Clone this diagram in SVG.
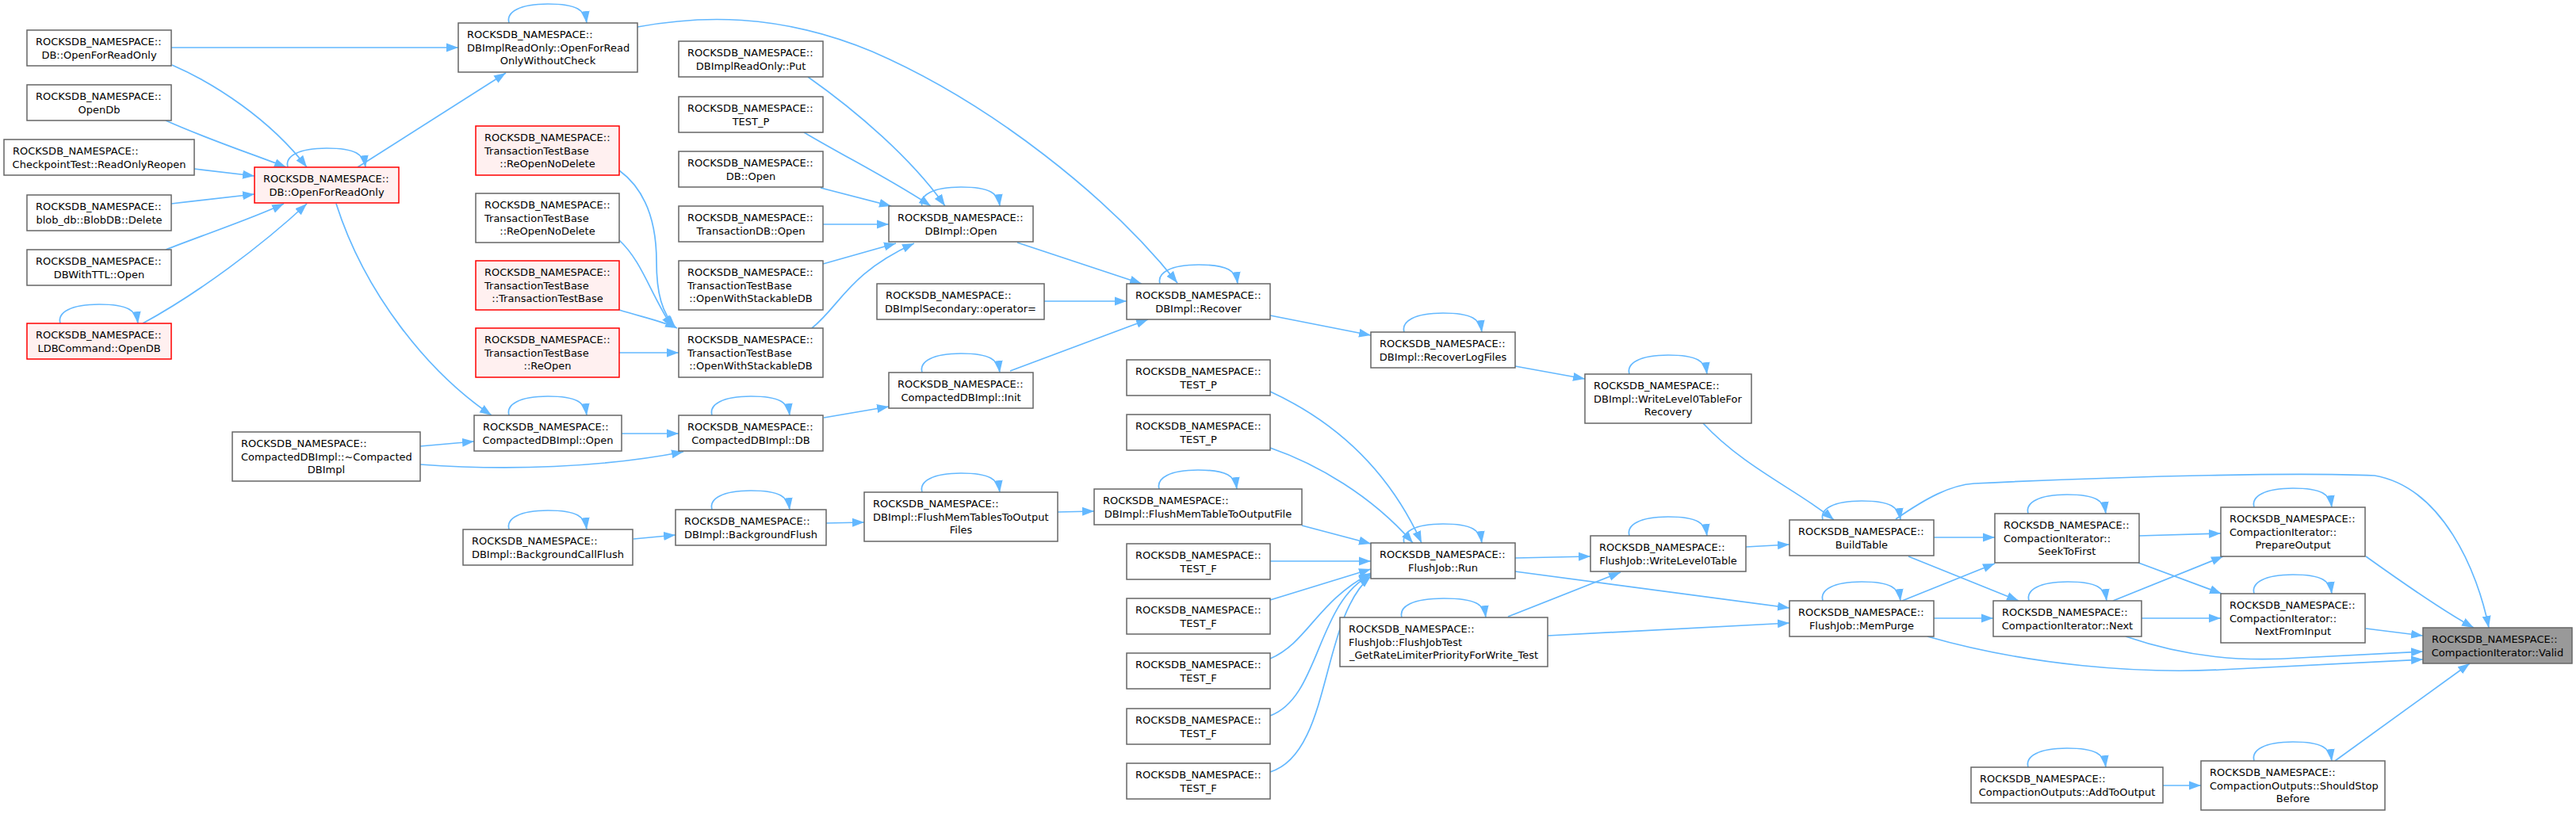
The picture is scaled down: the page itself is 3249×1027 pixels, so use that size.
<svg xmlns="http://www.w3.org/2000/svg" width="3249" height="1027" viewBox="0 0 3249 1027">
<defs>
<style>
.nd{fill:#ffffff;stroke:#666666;stroke-width:1.5}
.rd{fill:#fff0f0;stroke:#ff0000;stroke-width:1.5}
.gr{fill:#999999;stroke:#666666;stroke-width:1.5}
text{font-family:"DejaVu Sans","Liberation Sans",sans-serif;font-size:13px;fill:#000000}
.c{text-anchor:middle}
#edges path{fill:none;stroke:#63b8ff;stroke-width:1.7;marker-end:url(#ah)}
</style>
<marker id="ah" markerUnits="userSpaceOnUse" markerWidth="16" markerHeight="12" refX="15" refY="6" orient="auto">
<path d="M0,0.5 L15,6 L0,11.5 z" fill="#63b8ff"/>
</marker>
</defs>
<rect width="3249" height="1027" fill="#ffffff"/>
<g id="edges">
<path d="M216,60 L578,60"/>
<path d="M217,82 C270,105 340,150 387,211"/>
<path d="M209,152 C260,175 320,195 361,211"/>
<path d="M245,213 L321,222"/>
<path d="M216,257 L321,245"/>
<path d="M209,315 C260,295 320,275 358,257"/>
<path d="M180,408 C250,370 330,310 387,257"/>
<path d="M451,211 L638,92"/>
<path d="M424,257 C460,370 540,470 620,524"/>
<path d="M530,563 L598,557"/>
<path d="M530,586 C640,594 760,590 862,570"/>
<path d="M804,34 C880,20 980,15 1100,65 C1250,130 1400,250 1485,357"/>
<path d="M781,215 C815,240 828,280 828,330 C828,370 835,395 852,413"/>
<path d="M781,303 C810,330 820,370 848,413"/>
<path d="M781,391 C810,400 835,405 854,414"/>
<path d="M781,445 L856,445"/>
<path d="M784,547 L856,547"/>
<path d="M799,680 L852,675"/>
<path d="M1019,97 C1080,140 1150,200 1192,260"/>
<path d="M1014,167 C1070,200 1130,230 1174,260"/>
<path d="M1035,237 L1124,260"/>
<path d="M1038,283 L1121,283"/>
<path d="M1038,333 L1130,307"/>
<path d="M1024,414 C1060,385 1070,345 1153,307"/>
<path d="M1039,527 L1121,513"/>
<path d="M1042,660 L1090,659"/>
<path d="M1283,306 L1440,358"/>
<path d="M1317,380 L1421,380"/>
<path d="M1274,468 L1448,403"/>
<path d="M1334,646 L1380,645"/>
<path d="M1602,398 L1729,423"/>
<path d="M1602,494 C1680,530 1750,590 1793,685"/>
<path d="M1602,565 C1660,585 1730,625 1782,685"/>
<path d="M1642,663 L1729,686"/>
<path d="M1602,708 L1729,708"/>
<path d="M1602,757 L1729,718"/>
<path d="M1602,831 C1650,810 1660,760 1729,723"/>
<path d="M1602,903 C1665,880 1660,760 1729,725"/>
<path d="M1602,974 C1680,950 1665,780 1729,727"/>
<path d="M1911,462 L1999,478"/>
<path d="M1911,704 L2006,702"/>
<path d="M1911,721 L2257,767"/>
<path d="M1902,778 L2044,722"/>
<path d="M1952,802 L2257,786"/>
<path d="M2148,534 C2200,590 2270,620 2313,656"/>
<path d="M2202,690 L2257,687"/>
<path d="M2439,678 L2516,678"/>
<path d="M2407,702 L2546,758"/>
<path d="M2399,758 L2516,711"/>
<path d="M2439,780 L2514,780"/>
<path d="M2431,803 C2560,840 2700,850 2800,845 C2900,840 3000,835 3056,832"/>
<path d="M2391,655 C2430,628 2460,612 2490,610 C2700,600 2900,596 2995,600 C3080,615 3125,720 3139,792"/>
<path d="M2681,803 C2760,830 2830,835 2900,830 L3056,822"/>
<path d="M2698,676 L2801,673"/>
<path d="M2697,710 L2802,749"/>
<path d="M2665,758 L2804,702"/>
<path d="M2701,780 L2801,780"/>
<path d="M2728,991 L2776,991"/>
<path d="M2984,702 C3030,735 3080,770 3120,792"/>
<path d="M2984,793 L3056,802"/>
<path d="M2945,960 L3115,837"/>
<path d="M76,408 C72,394 90,384 125,384 C162,384 172,392 174,408"/>
<path d="M363,211 C359,197 377,187 412,187 C449,187 459,195 461,211"/>
<path d="M642,29 C638,15 656,5 691,5 C728,5 738,13 740,29"/>
<path d="M642,524 C638,510 656,500 691,500 C728,500 738,508 740,524"/>
<path d="M642,668 C638,654 656,644 691,644 C728,644 738,652 740,668"/>
<path d="M898,524 C894,510 912,500 947,500 C984,500 994,508 996,524"/>
<path d="M898,643 C894,629 912,619 947,619 C984,619 994,627 996,643"/>
<path d="M1163,260 C1159,246 1177,236 1212,236 C1249,236 1259,244 1261,260"/>
<path d="M1163,470 C1159,456 1177,446 1212,446 C1249,446 1259,454 1261,470"/>
<path d="M1163,621 C1159,607 1177,597 1212,597 C1249,597 1259,605 1261,621"/>
<path d="M1463,358 C1459,344 1477,334 1512,334 C1549,334 1559,342 1561,358"/>
<path d="M1462,617 C1458,603 1476,593 1511,593 C1548,593 1558,601 1560,617"/>
<path d="M1771,419 C1767,405 1785,395 1820,395 C1857,395 1867,403 1869,419"/>
<path d="M1771,685 C1767,671 1785,661 1820,661 C1857,661 1867,669 1869,685"/>
<path d="M1768,779 C1764,765 1782,755 1821,755 C1862,755 1872,763 1874,779"/>
<path d="M2055,472 C2051,458 2069,448 2104,448 C2141,448 2151,456 2153,472"/>
<path d="M2055,676 C2051,662 2069,652 2104,652 C2141,652 2151,660 2153,676"/>
<path d="M2299,656 C2295,642 2313,632 2348,632 C2385,632 2395,640 2397,656"/>
<path d="M2299,758 C2295,744 2313,734 2348,734 C2385,734 2395,742 2397,758"/>
<path d="M2558,648 C2554,634 2572,624 2607,624 C2644,624 2654,632 2656,648"/>
<path d="M2559,758 C2555,744 2573,734 2608,734 C2645,734 2655,742 2657,758"/>
<path d="M2558,968 C2554,954 2572,944 2607,944 C2644,944 2654,952 2656,968"/>
<path d="M2843,640 C2839,626 2857,616 2892,616 C2929,616 2939,624 2941,640"/>
<path d="M2843,749 C2839,735 2857,725 2892,725 C2929,725 2939,733 2941,749"/>
<path d="M2843,960 C2839,946 2857,936 2892,936 C2929,936 2939,944 2941,960"/>
</g>
<g id="n1"><rect class="nd" x="34" y="38" width="182" height="45"/><text><tspan x="45" y="57">ROCKSDB_NAMESPACE::</tspan><tspan class="c" x="125" y="73.7">DB::OpenForReadOnly</tspan></text></g>
<g id="n2"><rect class="nd" x="34" y="107" width="182" height="45"/><text><tspan x="45" y="126">ROCKSDB_NAMESPACE::</tspan><tspan class="c" x="125" y="142.7">OpenDb</tspan></text></g>
<g id="n3"><rect class="nd" x="5" y="176" width="240" height="45"/><text><tspan x="16" y="195">ROCKSDB_NAMESPACE::</tspan><tspan class="c" x="125" y="211.7">CheckpointTest::ReadOnlyReopen</tspan></text></g>
<g id="n4"><rect class="nd" x="34" y="246" width="182" height="45"/><text><tspan x="45" y="265">ROCKSDB_NAMESPACE::</tspan><tspan class="c" x="125" y="281.7">blob_db::BlobDB::Delete</tspan></text></g>
<g id="n5"><rect class="nd" x="34" y="315" width="182" height="45"/><text><tspan x="45" y="334">ROCKSDB_NAMESPACE::</tspan><tspan class="c" x="125" y="350.7">DBWithTTL::Open</tspan></text></g>
<g id="n6"><rect class="rd" x="34" y="408" width="182" height="45"/><text><tspan x="45" y="427">ROCKSDB_NAMESPACE::</tspan><tspan class="c" x="125" y="443.7">LDBCommand::OpenDB</tspan></text></g>
<g id="n7"><rect class="rd" x="321" y="211" width="182" height="45"/><text><tspan x="332" y="230">ROCKSDB_NAMESPACE::</tspan><tspan class="c" x="412" y="246.7">DB::OpenForReadOnly</tspan></text></g>
<g id="n8"><rect class="nd" x="293" y="545" width="237" height="62"/><text><tspan x="304" y="564">ROCKSDB_NAMESPACE::</tspan><tspan x="304" y="580.7">CompactedDBImpl::~Compacted</tspan><tspan class="c" x="411.5" y="597.4">DBImpl</tspan></text></g>
<g id="n9"><rect class="nd" x="578" y="29" width="226" height="62"/><text><tspan x="589" y="48">ROCKSDB_NAMESPACE::</tspan><tspan x="589" y="64.7">DBImplReadOnly::OpenForRead</tspan><tspan class="c" x="691" y="81.4">OnlyWithoutCheck</tspan></text></g>
<g id="n10"><rect class="rd" x="600" y="159" width="181" height="62"/><text><tspan x="611" y="178">ROCKSDB_NAMESPACE::</tspan><tspan x="611" y="194.7">TransactionTestBase</tspan><tspan class="c" x="690.5" y="211.4">::ReOpenNoDelete</tspan></text></g>
<g id="n11"><rect class="nd" x="600" y="244" width="181" height="62"/><text><tspan x="611" y="263">ROCKSDB_NAMESPACE::</tspan><tspan x="611" y="279.7">TransactionTestBase</tspan><tspan class="c" x="690.5" y="296.4">::ReOpenNoDelete</tspan></text></g>
<g id="n12"><rect class="rd" x="600" y="329" width="181" height="62"/><text><tspan x="611" y="348">ROCKSDB_NAMESPACE::</tspan><tspan x="611" y="364.7">TransactionTestBase</tspan><tspan class="c" x="690.5" y="381.4">::TransactionTestBase</tspan></text></g>
<g id="n13"><rect class="rd" x="600" y="414" width="181" height="62"/><text><tspan x="611" y="433">ROCKSDB_NAMESPACE::</tspan><tspan x="611" y="449.7">TransactionTestBase</tspan><tspan class="c" x="690.5" y="466.4">::ReOpen</tspan></text></g>
<g id="n14"><rect class="nd" x="598" y="524" width="186" height="45"/><text><tspan x="609" y="543">ROCKSDB_NAMESPACE::</tspan><tspan class="c" x="691" y="559.7">CompactedDBImpl::Open</tspan></text></g>
<g id="n15"><rect class="nd" x="584" y="668" width="214" height="45"/><text><tspan x="595" y="687">ROCKSDB_NAMESPACE::</tspan><tspan class="c" x="691" y="703.7">DBImpl::BackgroundCallFlush</tspan></text></g>
<g id="n16"><rect class="nd" x="856" y="52" width="182" height="45"/><text><tspan x="867" y="71">ROCKSDB_NAMESPACE::</tspan><tspan class="c" x="947" y="87.7">DBImplReadOnly::Put</tspan></text></g>
<g id="n17"><rect class="nd" x="856" y="122" width="182" height="45"/><text><tspan x="867" y="141">ROCKSDB_NAMESPACE::</tspan><tspan class="c" x="947" y="157.7">TEST_P</tspan></text></g>
<g id="n18"><rect class="nd" x="856" y="191" width="182" height="45"/><text><tspan x="867" y="210">ROCKSDB_NAMESPACE::</tspan><tspan class="c" x="947" y="226.7">DB::Open</tspan></text></g>
<g id="n19"><rect class="nd" x="856" y="260" width="182" height="45"/><text><tspan x="867" y="279">ROCKSDB_NAMESPACE::</tspan><tspan class="c" x="947" y="295.7">TransactionDB::Open</tspan></text></g>
<g id="n20"><rect class="nd" x="856" y="329" width="182" height="62"/><text><tspan x="867" y="348">ROCKSDB_NAMESPACE::</tspan><tspan x="867" y="364.7">TransactionTestBase</tspan><tspan class="c" x="947" y="381.4">::OpenWithStackableDB</tspan></text></g>
<g id="n21"><rect class="nd" x="856" y="414" width="182" height="62"/><text><tspan x="867" y="433">ROCKSDB_NAMESPACE::</tspan><tspan x="867" y="449.7">TransactionTestBase</tspan><tspan class="c" x="947" y="466.4">::OpenWithStackableDB</tspan></text></g>
<g id="n22"><rect class="nd" x="856" y="524" width="182" height="45"/><text><tspan x="867" y="543">ROCKSDB_NAMESPACE::</tspan><tspan class="c" x="947" y="559.7">CompactedDBImpl::DB</tspan></text></g>
<g id="n23"><rect class="nd" x="852" y="643" width="190" height="45"/><text><tspan x="863" y="662">ROCKSDB_NAMESPACE::</tspan><tspan class="c" x="947" y="678.7">DBImpl::BackgroundFlush</tspan></text></g>
<g id="n24"><rect class="nd" x="1121" y="260" width="182" height="45"/><text><tspan x="1132" y="279">ROCKSDB_NAMESPACE::</tspan><tspan class="c" x="1212" y="295.7">DBImpl::Open</tspan></text></g>
<g id="n25"><rect class="nd" x="1106" y="358" width="211" height="45"/><text><tspan x="1117" y="377">ROCKSDB_NAMESPACE::</tspan><tspan class="c" x="1211.5" y="393.7">DBImplSecondary::operator=</tspan></text></g>
<g id="n26"><rect class="nd" x="1121" y="470" width="182" height="45"/><text><tspan x="1132" y="489">ROCKSDB_NAMESPACE::</tspan><tspan class="c" x="1212" y="505.7">CompactedDBImpl::Init</tspan></text></g>
<g id="n27"><rect class="nd" x="1090" y="621" width="244" height="62"/><text><tspan x="1101" y="640">ROCKSDB_NAMESPACE::</tspan><tspan x="1101" y="656.7">DBImpl::FlushMemTablesToOutput</tspan><tspan class="c" x="1212" y="673.4">Files</tspan></text></g>
<g id="n28"><rect class="nd" x="1421" y="358" width="181" height="45"/><text><tspan x="1432" y="377">ROCKSDB_NAMESPACE::</tspan><tspan class="c" x="1511.5" y="393.7">DBImpl::Recover</tspan></text></g>
<g id="n29"><rect class="nd" x="1421" y="454" width="181" height="45"/><text><tspan x="1432" y="473">ROCKSDB_NAMESPACE::</tspan><tspan class="c" x="1511.5" y="489.7">TEST_P</tspan></text></g>
<g id="n30"><rect class="nd" x="1421" y="523" width="181" height="45"/><text><tspan x="1432" y="542">ROCKSDB_NAMESPACE::</tspan><tspan class="c" x="1511.5" y="558.7">TEST_P</tspan></text></g>
<g id="n31"><rect class="nd" x="1380" y="617" width="262" height="45"/><text><tspan x="1391" y="636">ROCKSDB_NAMESPACE::</tspan><tspan class="c" x="1511" y="652.7">DBImpl::FlushMemTableToOutputFile</tspan></text></g>
<g id="n32"><rect class="nd" x="1421" y="686" width="181" height="45"/><text><tspan x="1432" y="705">ROCKSDB_NAMESPACE::</tspan><tspan class="c" x="1511.5" y="721.7">TEST_F</tspan></text></g>
<g id="n33"><rect class="nd" x="1421" y="755" width="181" height="45"/><text><tspan x="1432" y="774">ROCKSDB_NAMESPACE::</tspan><tspan class="c" x="1511.5" y="790.7">TEST_F</tspan></text></g>
<g id="n34"><rect class="nd" x="1421" y="824" width="181" height="45"/><text><tspan x="1432" y="843">ROCKSDB_NAMESPACE::</tspan><tspan class="c" x="1511.5" y="859.7">TEST_F</tspan></text></g>
<g id="n35"><rect class="nd" x="1421" y="894" width="181" height="45"/><text><tspan x="1432" y="913">ROCKSDB_NAMESPACE::</tspan><tspan class="c" x="1511.5" y="929.7">TEST_F</tspan></text></g>
<g id="n36"><rect class="nd" x="1421" y="963" width="181" height="45"/><text><tspan x="1432" y="982">ROCKSDB_NAMESPACE::</tspan><tspan class="c" x="1511.5" y="998.7">TEST_F</tspan></text></g>
<g id="n37"><rect class="nd" x="1729" y="419" width="182" height="45"/><text><tspan x="1740" y="438">ROCKSDB_NAMESPACE::</tspan><tspan class="c" x="1820" y="454.7">DBImpl::RecoverLogFiles</tspan></text></g>
<g id="n38"><rect class="nd" x="1729" y="685" width="182" height="45"/><text><tspan x="1740" y="704">ROCKSDB_NAMESPACE::</tspan><tspan class="c" x="1820" y="720.7">FlushJob::Run</tspan></text></g>
<g id="n39"><rect class="nd" x="1690" y="779" width="262" height="62"/><text><tspan x="1701" y="798">ROCKSDB_NAMESPACE::</tspan><tspan x="1701" y="814.7">FlushJob::FlushJobTest</tspan><tspan class="c" x="1821" y="831.4">_GetRateLimiterPriorityForWrite_Test</tspan></text></g>
<g id="n40"><rect class="nd" x="1999" y="472" width="210" height="62"/><text><tspan x="2010" y="491">ROCKSDB_NAMESPACE::</tspan><tspan x="2010" y="507.7">DBImpl::WriteLevel0TableFor</tspan><tspan class="c" x="2104" y="524.4">Recovery</tspan></text></g>
<g id="n41"><rect class="nd" x="2006" y="676" width="196" height="45"/><text><tspan x="2017" y="695">ROCKSDB_NAMESPACE::</tspan><tspan class="c" x="2104" y="711.7">FlushJob::WriteLevel0Table</tspan></text></g>
<g id="n42"><rect class="nd" x="2257" y="656" width="182" height="45"/><text><tspan x="2268" y="675">ROCKSDB_NAMESPACE::</tspan><tspan class="c" x="2348" y="691.7">BuildTable</tspan></text></g>
<g id="n43"><rect class="nd" x="2257" y="758" width="182" height="45"/><text><tspan x="2268" y="777">ROCKSDB_NAMESPACE::</tspan><tspan class="c" x="2348" y="793.7">FlushJob::MemPurge</tspan></text></g>
<g id="n44"><rect class="nd" x="2516" y="648" width="182" height="62"/><text><tspan x="2527" y="667">ROCKSDB_NAMESPACE::</tspan><tspan x="2527" y="683.7">CompactionIterator::</tspan><tspan class="c" x="2607" y="700.4">SeekToFirst</tspan></text></g>
<g id="n45"><rect class="nd" x="2514" y="758" width="187" height="45"/><text><tspan x="2525" y="777">ROCKSDB_NAMESPACE::</tspan><tspan class="c" x="2607.5" y="793.7">CompactionIterator::Next</tspan></text></g>
<g id="n46"><rect class="nd" x="2486" y="968" width="242" height="45"/><text><tspan x="2497" y="987">ROCKSDB_NAMESPACE::</tspan><tspan class="c" x="2607" y="1003.7">CompactionOutputs::AddToOutput</tspan></text></g>
<g id="n47"><rect class="nd" x="2801" y="640" width="182" height="62"/><text><tspan x="2812" y="659">ROCKSDB_NAMESPACE::</tspan><tspan x="2812" y="675.7">CompactionIterator::</tspan><tspan class="c" x="2892" y="692.4">PrepareOutput</tspan></text></g>
<g id="n48"><rect class="nd" x="2801" y="749" width="182" height="62"/><text><tspan x="2812" y="768">ROCKSDB_NAMESPACE::</tspan><tspan x="2812" y="784.7">CompactionIterator::</tspan><tspan class="c" x="2892" y="801.4">NextFromInput</tspan></text></g>
<g id="n49"><rect class="nd" x="2776" y="960" width="232" height="62"/><text><tspan x="2787" y="979">ROCKSDB_NAMESPACE::</tspan><tspan x="2787" y="995.7">CompactionOutputs::ShouldStop</tspan><tspan class="c" x="2892" y="1012.4">Before</tspan></text></g>
<g id="n50"><rect class="gr" x="3056" y="792" width="188" height="45"/><text><tspan x="3067" y="811">ROCKSDB_NAMESPACE::</tspan><tspan class="c" x="3150" y="827.7">CompactionIterator::Valid</tspan></text></g>
</svg>
